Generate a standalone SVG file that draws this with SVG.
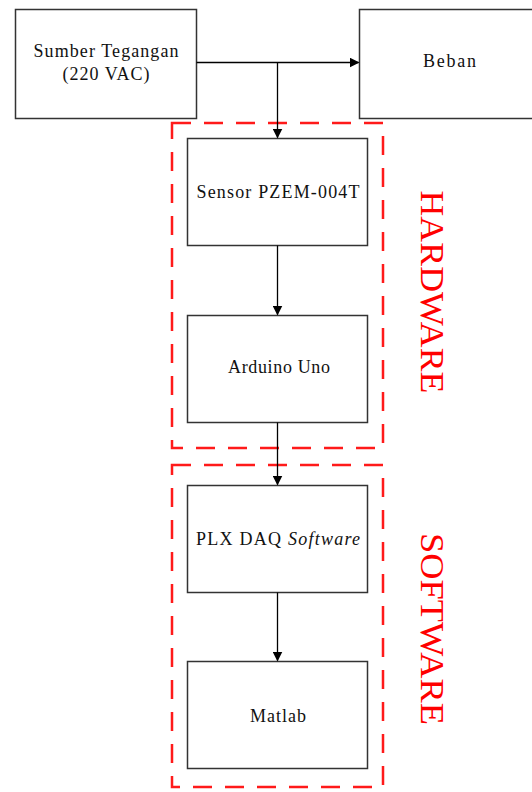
<svg xmlns="http://www.w3.org/2000/svg" width="532" height="792" viewBox="0 0 532 792">
<defs>
<marker id="ah" markerWidth="10" markerHeight="10" refX="9" refY="5" orient="auto" markerUnits="userSpaceOnUse">
<path d="M0,0 L10,5 L0,10 Z" fill="#000"/>
</marker>
<style>
.box{fill:#fff;stroke:#333;stroke-width:1.5}
.grp{fill:none;stroke:#ff1a1a;stroke-width:2.5;stroke-dasharray:19 13}
.lbl{font-family:"Liberation Serif","Times New Roman",serif;font-size:18px;fill:#111;text-anchor:middle}
.side{font-family:"Liberation Serif","Times New Roman",serif;font-size:34px;fill:#ff0000;text-anchor:middle}
.ln{fill:none;stroke:#000;stroke-width:1.3}
</style>
</defs>
<rect width="532" height="792" fill="#fff"/>
<g id="group-hardware">
<rect class="grp" x="172" y="123" width="211" height="325"/>
<text class="side" transform="translate(421,292) rotate(90)" textLength="203" lengthAdjust="spacingAndGlyphs">HARDWARE</text>
</g>
<g id="group-software">
<rect class="grp" x="172" y="465" width="211" height="322"/>
<text class="side" transform="translate(421,629) rotate(90)" textLength="192" lengthAdjust="spacingAndGlyphs">SOFTWARE</text>
</g>
<g id="node-sumber">
<rect class="box" x="15.5" y="9.5" width="181" height="109"/>
<text class="lbl" x="106" y="57" textLength="145" lengthAdjust="spacing">Sumber Tegangan</text>
<text class="lbl" x="106" y="80" textLength="87" lengthAdjust="spacing">(220 VAC)</text>
</g>
<g id="node-beban">
<rect class="box" x="359.5" y="9.5" width="190" height="109"/>
<text class="lbl" x="449.5" y="67" textLength="53" lengthAdjust="spacing">Beban</text>
</g>
<g id="node-sensor">
<rect class="box" x="187.5" y="138.5" width="180" height="107"/>
<text class="lbl" x="278" y="198" textLength="163" lengthAdjust="spacing">Sensor PZEM-004T</text>
</g>
<g id="node-arduino">
<rect class="box" x="187.5" y="315.5" width="180" height="107"/>
<text class="lbl" x="279" y="373" textLength="102" lengthAdjust="spacing">Arduino Uno</text>
</g>
<g id="node-plx">
<rect class="box" x="187.5" y="485.5" width="180" height="107"/>
<text class="lbl" x="278" y="545" textLength="164" lengthAdjust="spacing">PLX DAQ <tspan font-style="italic">Software</tspan></text>
</g>
<g id="node-matlab">
<rect class="box" x="187.5" y="661.5" width="180" height="107"/>
<text class="lbl" x="278" y="722" textLength="56" lengthAdjust="spacing">Matlab</text>
</g>
<g id="connectors">
<path class="ln" d="M196.5,62.5 H358.5" marker-end="url(#ah)"/>
<path class="ln" d="M277.5,62.5 V137.5" marker-end="url(#ah)"/>
<path class="ln" d="M277.5,245.5 V314.5" marker-end="url(#ah)"/>
<path class="ln" d="M277.5,422.5 V484.5" marker-end="url(#ah)"/>
<path class="ln" d="M277.5,592.5 V660.5" marker-end="url(#ah)"/>
</g>
</svg>
